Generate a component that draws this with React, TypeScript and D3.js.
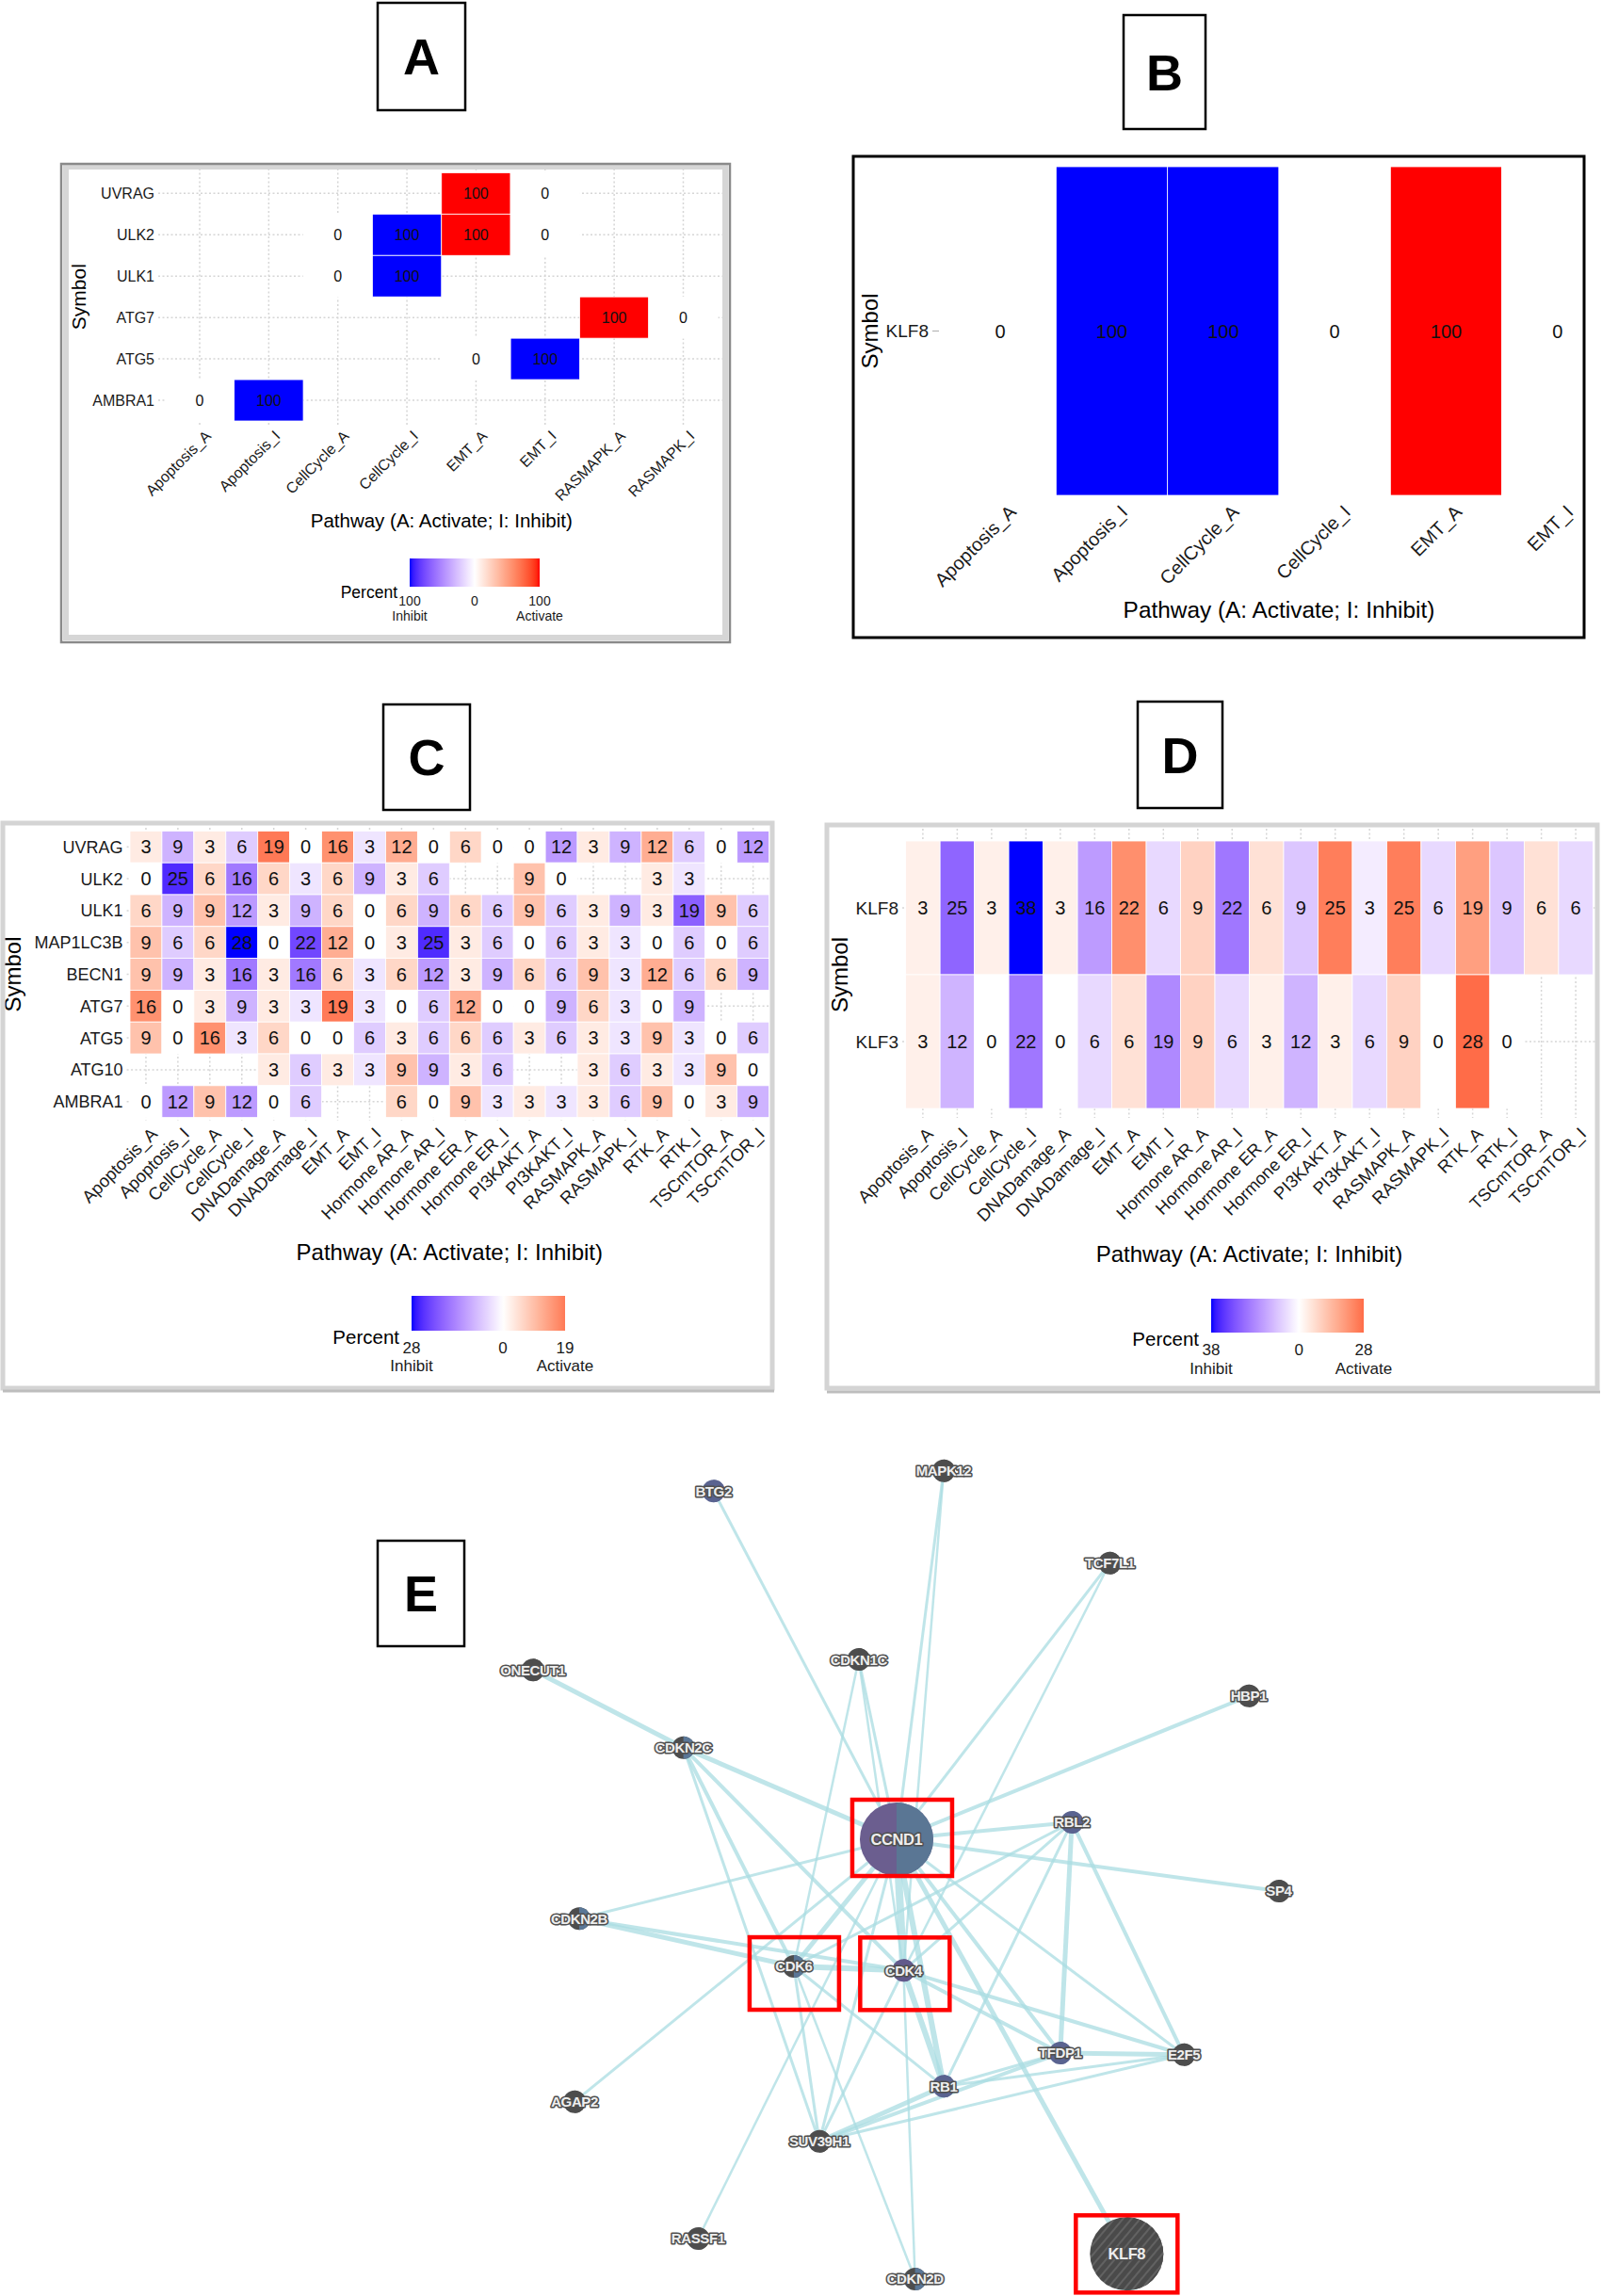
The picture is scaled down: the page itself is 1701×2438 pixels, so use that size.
import React, { useEffect, useRef } from 'react';
import * as d3 from 'd3';

const W = 1701;
const H = 2438;
const FONT = "'Liberation Sans', Arial, Helvetica, sans-serif";

// ---------- Panel A ----------
const pathwaysA = ['Apoptosis_A', 'Apoptosis_I', 'CellCycle_A', 'CellCycle_I', 'EMT_A', 'EMT_I', 'RASMAPK_A', 'RASMAPK_I'];
const symbolsA = ['UVRAG', 'ULK2', 'ULK1', 'ATG7', 'ATG5', 'AMBRA1'];
const valuesA: (number | null)[][] = [
  [null, null, null, null, 100, 0, null, null],
  [null, null, 0, 100, 100, 0, null, null],
  [null, null, 0, 100, null, null, null, null],
  [null, null, null, null, null, null, 100, 0],
  [null, null, null, null, 0, 100, null, null],
  [0, 100, null, null, null, null, null, null],
];

// ---------- Panel B ----------
const pathwaysB = ['Apoptosis_A', 'Apoptosis_I', 'CellCycle_A', 'CellCycle_I', 'EMT_A', 'EMT_I'];
const symbolsB = ['KLF8'];
// signed: negative values are drawn on the inhibit (blue) side
const valuesB: (number | null)[][] = [[0, -100, -100, 0, 100, 0]];

// ---------- Panels C and D ----------
const pathwaysCD = [
  'Apoptosis_A', 'Apoptosis_I', 'CellCycle_A', 'CellCycle_I', 'DNADamage_A', 'DNADamage_I',
  'EMT_A', 'EMT_I', 'Hormone AR_A', 'Hormone AR_I', 'Hormone ER_A', 'Hormone ER_I',
  'PI3KAKT_A', 'PI3KAKT_I', 'RASMAPK_A', 'RASMAPK_I', 'RTK_A', 'RTK_I', 'TSCmTOR_A', 'TSCmTOR_I',
];
const symbolsC = ['UVRAG', 'ULK2', 'ULK1', 'MAP1LC3B', 'BECN1', 'ATG7', 'ATG5', 'ATG10', 'AMBRA1'];
const _ = null;
const valuesC: (number | null)[][] = [
  [3, 9, 3, 6, 19, 0, 16, 3, 12, 0, 6, 0, 0, 12, 3, 9, 12, 6, 0, 12],
  [0, 25, 6, 16, 6, 3, 6, 9, 3, 6, _, _, 9, 0, _, _, 3, 3, _, _],
  [6, 9, 9, 12, 3, 9, 6, 0, 6, 9, 6, 6, 9, 6, 3, 9, 3, 19, 9, 6],
  [9, 6, 6, 28, 0, 22, 12, 0, 3, 25, 3, 6, 0, 6, 3, 3, 0, 6, 0, 6],
  [9, 9, 3, 16, 3, 16, 6, 3, 6, 12, 3, 9, 6, 6, 9, 3, 12, 6, 6, 9],
  [16, 0, 3, 9, 3, 3, 19, 3, 0, 6, 12, 0, 0, 9, 6, 3, 0, 9, _, _],
  [9, 0, 16, 3, 6, 0, 0, 6, 3, 6, 6, 6, 3, 6, 3, 3, 9, 3, 0, 6],
  [_, _, _, _, 3, 6, 3, 3, 9, 9, 3, 6, _, _, 3, 6, 3, 3, 9, 0],
  [0, 12, 9, 12, 0, 6, _, _, 6, 0, 9, 3, 3, 3, 3, 6, 9, 0, 3, 9],
];
const symbolsD = ['KLF8', 'KLF3'];
const valuesD: (number | null)[][] = [
  [3, 25, 3, 38, 3, 16, 22, 6, 9, 22, 6, 9, 25, 3, 25, 6, 19, 9, 6, 6],
  [3, 12, 0, 22, 0, 6, 6, 19, 9, 6, 3, 12, 3, 6, 9, 0, 28, 0, _, _],
];

// ---------- Panel E (network, layout units 0-100) ----------
// name, x, y, colouring
const networkNodes: [string, number, number, string][] = [
  ['BTG2', 24.1, 2.7, 'bp'],
  ['MAPK12', 53.9, 0.2, 'g'],
  ['TCF7L1', 75.4, 11.6, 'g'],
  ['CDKN1C', 42.9, 23.5, 'g'],
  ['ONECUT1', 0.7, 24.8, 'g'],
  ['HBP1', 93.4, 28.0, 'g'],
  ['CDKN2C', 20.2, 34.4, 'gb'],
  ['CCND1', 47.8, 45.7, 'pb'],
  ['RBL2', 70.5, 43.6, 'bp'],
  ['CDKN2B', 6.7, 55.5, 'gb'],
  ['SP4', 97.3, 52.1, 'g'],
  ['CDK6', 34.5, 61.4, 'gb'],
  ['CDK4', 48.7, 61.9, 'p'],
  ['TFDP1', 69.0, 72.1, 'bp'],
  ['E2F5', 85.0, 72.3, 'g'],
  ['RB1', 53.9, 76.2, 'bp'],
  ['AGAP2', 6.1, 78.1, 'g'],
  ['SUV39H1', 37.8, 83.0, 'g'],
  ['RASSF1', 22.1, 95.0, 'g'],
  ['CDKN2D', 50.2, 100, 'gb'],
  ['KLF8', 77.6, 96.9, 'hatch'],
];
const bigNodes = ['CCND1', 'KLF8'];
// source, target, width
const networkEdges: [string, string, number][] = [
  ['BTG2', 'CCND1', 3], ['MAPK12', 'CCND1', 3], ['MAPK12', 'CDK4', 2.5],
  ['TCF7L1', 'CCND1', 3], ['TCF7L1', 'CDK4', 2.5],
  ['CDKN1C', 'CCND1', 3], ['CDKN1C', 'CDK6', 2.5], ['CDKN1C', 'CDK4', 2.5],
  ['ONECUT1', 'CDKN2C', 5], ['HBP1', 'CCND1', 4],
  ['CDKN2C', 'CCND1', 5], ['CDKN2C', 'CDK6', 4], ['CDKN2C', 'CDK4', 4], ['CDKN2C', 'SUV39H1', 3],
  ['CDKN2B', 'CDK6', 5], ['CDKN2B', 'CDK4', 4], ['CDKN2B', 'CCND1', 3],
  ['SP4', 'CCND1', 4],
  ['RBL2', 'CCND1', 4], ['RBL2', 'CDK4', 3], ['RBL2', 'CDK6', 3], ['RBL2', 'TFDP1', 5],
  ['RBL2', 'E2F5', 4], ['RBL2', 'RB1', 3],
  ['CCND1', 'CDK4', 8], ['CCND1', 'CDK6', 5], ['CCND1', 'RB1', 6], ['CCND1', 'TFDP1', 4],
  ['CCND1', 'E2F5', 3], ['CCND1', 'KLF8', 5], ['CCND1', 'AGAP2', 3], ['CCND1', 'RASSF1', 2.5],
  ['CCND1', 'SUV39H1', 3],
  ['CDK6', 'CDK4', 6], ['CDK6', 'RB1', 3], ['CDK6', 'SUV39H1', 3], ['CDK6', 'CDKN2D', 2.5],
  ['CDK4', 'RB1', 6], ['CDK4', 'TFDP1', 4], ['CDK4', 'E2F5', 4], ['CDK4', 'SUV39H1', 3], ['CDK4', 'CDKN2D', 2.5],
  ['RB1', 'TFDP1', 3], ['RB1', 'E2F5', 3], ['RB1', 'SUV39H1', 5],
  ['TFDP1', 'E2F5', 5], ['TFDP1', 'SUV39H1', 4], ['SUV39H1', 'E2F5', 3],
];
// node, box width, box height, dx, dy
const highlightBoxes: [string, number, number, number, number][] = [
  ['CCND1', 106, 81, 6, -1.5],
  ['CDK6', 95, 77, 0.5, 7.5],
  ['CDK4', 95, 77, 1.5, 3.5],
  ['KLF8', 108, 82, 0, 0],
];

// panel letters: letter, x, y, w, h
const panelLetters: [string, number, number, number, number][] = [
  ['A', 401, 3, 93, 114],
  ['B', 1193, 16, 87, 121],
  ['C', 407, 748, 92, 112],
  ['D', 1208, 745, 90, 113],
  ['E', 401, 1636, 92, 112],
];

const colour = (s: number, m: number) =>
  s >= 0
    ? d3.interpolateLab('#ffffff', '#ff0000')(Math.min(1, s / m))
    : d3.interpolateLab('#ffffff', '#0000ff')(Math.min(1, -s / m));

interface LegendSpec {
  x: [number, number];
  y: [number, number];
  percentFont: number;
  labelFont: number;
  percentDy: number;
  numDy: number;
  wordDy: number;
}

interface HeatmapSpec {
  id: string;
  cols: string[];
  rows: string[];
  values: (number | null)[][];
  preSigned?: boolean;
  xRange: [number, number];
  yRange: [number, number];
  padX: number;
  padY: number;
  grid: boolean;
  gridY?: [number, number];
  rowFont: number;
  cellFont: number;
  tickFont: number;
  rowGap: number;
  rowTick: boolean;
  tickDx: number;
  tickY: number;
  symX: number;
  symFont: number;
  titleY: number;
  titleFont: number;
  legend?: LegendSpec;
}

interface Cell { r: string; c: string; s: number; v: number; }

function drawHeatmap(root: any, defs: any, spec: HeatmapSpec) {
  const g = root.append('g').attr('font-family', FONT);
  const x = d3.scaleBand<string>().domain(spec.cols).range(spec.xRange).paddingInner(0).paddingOuter(spec.padX);
  const y = d3.scaleBand<string>().domain(spec.rows).range(spec.yRange).paddingInner(0).paddingOuter(spec.padY);
  const cx = (c: string) => (x(c) ?? 0) + x.bandwidth() / 2;
  const cy = (r: string) => (y(r) ?? 0) + y.bandwidth() / 2;

  const cells: Cell[] = [];
  spec.rows.forEach((r, i) =>
    spec.cols.forEach((c, j) => {
      const v = spec.values[i][j];
      if (v === null || v === undefined) return;
      const s = spec.preSigned ? v : c.endsWith('_I') ? -v : v;
      cells.push({ r, c, s, v: Math.abs(v) });
    })
  );
  const maxI = d3.max(cells, d => (d.s < 0 ? -d.s : 0)) ?? 0;
  const maxA = d3.max(cells, d => (d.s > 0 ? d.s : 0)) ?? 0;
  const m = Math.max(maxI, maxA, 1);

  if (spec.grid) {
    const gy = spec.gridY ?? spec.yRange;
    const grid = g.append('g').attr('stroke', '#d6d6d6').attr('stroke-width', 1.5).attr('stroke-dasharray', '2,2.5');
    grid.selectAll('line.v').data(spec.cols).join('line').attr('class', 'v')
      .attr('x1', cx).attr('x2', cx).attr('y1', gy[0]).attr('y2', gy[1]);
    grid.selectAll('line.h').data(spec.rows).join('line').attr('class', 'h')
      .attr('x1', spec.xRange[0]).attr('x2', spec.xRange[1]).attr('y1', cy).attr('y2', cy);
  }

  g.append('g').selectAll('rect').data(cells).join('rect')
    .attr('x', (d: Cell) => x(d.c) ?? 0)
    .attr('y', (d: Cell) => y(d.r) ?? 0)
    .attr('width', x.bandwidth())
    .attr('height', y.bandwidth())
    .attr('fill', (d: Cell) => colour(d.s, m))
    .attr('stroke', '#ffffff')
    .attr('stroke-width', 0.8);

  g.append('g').selectAll('text').data(cells).join('text')
    .attr('x', (d: Cell) => cx(d.c))
    .attr('y', (d: Cell) => cy(d.r))
    .attr('dy', '0.36em')
    .attr('text-anchor', 'middle')
    .attr('font-size', spec.cellFont)
    .attr('fill', '#111')
    .text((d: Cell) => d.v);

  // row labels
  const labelX = spec.xRange[0] - spec.rowGap;
  g.append('g').selectAll('text').data(spec.rows).join('text')
    .attr('x', labelX)
    .attr('y', cy)
    .attr('dy', '0.36em')
    .attr('text-anchor', 'end')
    .attr('font-size', spec.rowFont)
    .attr('fill', '#1a1a1a')
    .text((d: string) => d);
  if (spec.rowTick) {
    g.append('g').selectAll('line').data(spec.rows).join('line')
      .attr('x1', labelX + 4).attr('x2', labelX + 11)
      .attr('y1', cy).attr('y2', cy)
      .attr('stroke', '#b5b5b5').attr('stroke-width', 1.2);
  }

  // column labels
  g.append('g').selectAll('text').data(spec.cols).join('text')
    .attr('transform', (d: string) => `translate(${cx(d) + spec.tickDx},${spec.tickY}) rotate(-45)`)
    .attr('dy', '0.7em')
    .attr('text-anchor', 'end')
    .attr('font-size', spec.tickFont)
    .attr('fill', '#1a1a1a')
    .text((d: string) => d);

  // axis titles
  g.append('text')
    .attr('transform', `translate(${spec.symX},${(spec.yRange[0] + spec.yRange[1]) / 2}) rotate(-90)`)
    .attr('dy', '0.36em')
    .attr('text-anchor', 'middle')
    .attr('font-size', spec.symFont)
    .attr('fill', '#000')
    .text('Symbol');
  g.append('text')
    .attr('x', (spec.xRange[0] + spec.xRange[1]) / 2)
    .attr('y', spec.titleY)
    .attr('text-anchor', 'middle')
    .attr('font-size', spec.titleFont)
    .attr('fill', '#000')
    .text('Pathway (A: Activate; I: Inhibit)');

  if (spec.legend) {
    const L = spec.legend;
    const lx = d3.scaleLinear().domain([-maxI, maxA]).range(L.x);
    const gid = `grad-${spec.id}`;
    const grad = defs.append('linearGradient').attr('id', gid).attr('x1', '0%').attr('x2', '100%');
    d3.range(0, 41).forEach(i => {
      const t = i / 40;
      const v = -maxI + t * (maxI + maxA);
      grad.append('stop').attr('offset', `${t * 100}%`).attr('stop-color', colour(v, m));
    });
    g.append('rect')
      .attr('x', L.x[0]).attr('y', L.y[0])
      .attr('width', L.x[1] - L.x[0]).attr('height', L.y[1] - L.y[0])
      .attr('fill', `url(#${gid})`);
    g.append('text')
      .attr('x', L.x[0] - 13).attr('y', L.y[1] + L.percentDy)
      .attr('text-anchor', 'end').attr('font-size', L.percentFont).attr('fill', '#000')
      .text('Percent');
    const ticks: [number, string, string][] = [[-maxI, String(maxI), 'Inhibit'], [0, '0', ''], [maxA, String(maxA), 'Activate']];
    const tg = g.append('g').attr('font-size', L.labelFont).attr('fill', '#1a1a1a').attr('text-anchor', 'middle');
    tg.selectAll('text.n').data(ticks).join('text').attr('class', 'n')
      .attr('x', (d: [number, string, string]) => lx(d[0])).attr('y', L.y[1] + L.numDy)
      .text((d: [number, string, string]) => d[1]);
    tg.selectAll('text.w').data(ticks).join('text').attr('class', 'w')
      .attr('x', (d: [number, string, string]) => lx(d[0])).attr('y', L.y[1] + L.wordDy)
      .text((d: [number, string, string]) => d[2]);
  }
}

function drawNetwork(root: any, defs: any) {
  const xE = d3.scaleLinear().domain([0, 100]).range([560, 1380]);
  const yE = d3.scaleLinear().domain([0, 100]).range([1560, 2420]);
  const pos = new Map(networkNodes.map(n => [n[0], [xE(n[1]), yE(n[2])]]));
  const g = root.append('g').attr('font-family', FONT);

  const pat = defs.append('pattern').attr('id', 'hatch').attr('patternUnits', 'userSpaceOnUse')
    .attr('width', 7).attr('height', 7).attr('patternTransform', 'rotate(40)');
  pat.append('rect').attr('width', 7).attr('height', 7).attr('fill', '#4a4a4a');
  pat.append('line').attr('x1', 1).attr('x2', 1).attr('y1', 0).attr('y2', 7).attr('stroke', '#6c6c6c').attr('stroke-width', 1.4);

  g.append('g').selectAll('line').data(networkEdges).join('line')
    .attr('x1', (d: any) => pos.get(d[0])![0]).attr('y1', (d: any) => pos.get(d[0])![1])
    .attr('x2', (d: any) => pos.get(d[1])![0]).attr('y2', (d: any) => pos.get(d[1])![1])
    .attr('stroke', '#a9dce2').attr('stroke-opacity', 0.75)
    .attr('stroke-width', (d: any) => d[2]);

  const leftCol: Record<string, string> = { g: '#4d4d4d', gb: '#4d4d4d', p: '#625a8c', pb: '#6b5e8f', bp: '#5a6390', hatch: 'url(#hatch)' };
  const rightCol: Record<string, string> = { g: '#4d4d4d', gb: '#5a7797', p: '#625a8c', pb: '#5a7694', bp: '#5a6390', hatch: 'url(#hatch)' };

  const nodes = g.append('g').selectAll('g').data(networkNodes).join('g')
    .attr('transform', (d: any) => `translate(${xE(d[1])},${yE(d[2])})`);
  const rad = (d: any) => (bigNodes.includes(d[0]) ? 39 : 12);
  nodes.append('circle').attr('r', rad).attr('fill', (d: any) => leftCol[d[3]]);
  nodes.append('path')
    .attr('d', (d: any) => d3.arc()({ innerRadius: 0, outerRadius: rad(d), startAngle: 0, endAngle: Math.PI } as any))
    .attr('fill', (d: any) => rightCol[d[3]]);
  nodes.append('text')
    .attr('dy', '0.36em')
    .attr('text-anchor', 'middle')
    .attr('font-size', (d: any) => (bigNodes.includes(d[0]) ? 16.5 : 15))
    .attr('font-weight', 'bold')
    .attr('letter-spacing', -0.4)
    .attr('fill', '#eeeeee')
    .attr('stroke', '#505050')
    .attr('stroke-width', 3.2)
    .attr('stroke-linejoin', 'round')
    .attr('paint-order', 'stroke')
    .text((d: any) => d[0]);

  g.append('g').selectAll('rect').data(highlightBoxes).join('rect')
    .attr('x', (d: any) => pos.get(d[0])![0] + d[3] - d[1] / 2)
    .attr('y', (d: any) => pos.get(d[0])![1] + d[4] - d[2] / 2)
    .attr('width', (d: any) => d[1])
    .attr('height', (d: any) => d[2])
    .attr('fill', 'none')
    .attr('stroke', '#ff0000')
    .attr('stroke-width', 4.5);
}

const App: React.FC = () => {
  const ref = useRef<SVGSVGElement | null>(null);

  useEffect(() => {
    if (!ref.current) return;
    const svg = d3.select(ref.current);
    svg.selectAll('*').remove();
    const defs = svg.append('defs');
    svg.append('rect').attr('width', W).attr('height', H).attr('fill', '#ffffff');

    drawHeatmap(svg, defs, {
      id: 'A', cols: pathwaysA, rows: symbolsA, values: valuesA,
      xRange: [168, 769.5], yRange: [179, 451.4], padX: 0.1, padY: 0.1, grid: true,
      rowFont: 16, cellFont: 16, tickFont: 16, rowGap: 4, rowTick: false,
      tickDx: 5, tickY: 456, symX: 83, symFont: 21, titleY: 560, titleFont: 20.5,
      legend: { x: [435, 573], y: [593, 623], percentFont: 17.5, labelFont: 14, percentDy: 12, numDy: 20, wordDy: 36 },
    });
    drawHeatmap(svg, defs, {
      id: 'B', cols: pathwaysB, rows: symbolsB, values: valuesB, preSigned: true,
      xRange: [1003, 1713], yRange: [177, 526], padX: 0, padY: 0, grid: false,
      rowFont: 19, cellFont: 20, tickFont: 20, rowGap: 17, rowTick: true,
      tickDx: 8, tickY: 535, symX: 923, symFont: 24, titleY: 656, titleFont: 24.4,
    });
    drawHeatmap(svg, defs, {
      id: 'C', cols: pathwaysCD, rows: symbolsC, values: valuesC,
      xRange: [134.6, 820], yRange: [879, 1190], padX: 0.1, padY: 0.1, grid: true,
      rowFont: 18, cellFont: 20, tickFont: 18.5, rowGap: 4, rowTick: false,
      tickDx: 4, tickY: 1196, symX: 13, symFont: 24, titleY: 1338, titleFont: 24,
      legend: { x: [437, 600], y: [1376, 1413], percentFont: 20.5, labelFont: 17, percentDy: 14, numDy: 24, wordDy: 43 },
    });
    drawHeatmap(svg, defs, {
      id: 'D', cols: pathwaysCD, rows: symbolsD, values: valuesD,
      xRange: [958, 1695], yRange: [893, 1177], padX: 0.1, padY: 0, grid: true, gridY: [880, 1187],
      rowFont: 19, cellFont: 20, tickFont: 18.5, rowGap: 4, rowTick: false,
      tickDx: 3, tickY: 1196, symX: 891, symFont: 24, titleY: 1340, titleFont: 24,
      legend: { x: [1286, 1448], y: [1379, 1415], percentFont: 20.5, labelFont: 17, percentDy: 14, numDy: 24, wordDy: 44 },
    });

    drawNetwork(svg, defs);

    // frames, drawn over the plots so white tiles cannot hide them
    const frames = svg.append('g').attr('fill', 'none');
    frames.append('rect').attr('x', 70).attr('y', 177).attr('width', 700).attr('height', 500)
      .attr('stroke', '#d6d6d6').attr('stroke-width', 6);
    frames.append('rect').attr('x', 65).attr('y', 174).attr('width', 710).attr('height', 508)
      .attr('stroke', '#8a8a8a').attr('stroke-width', 2.5);
    frames.append('rect').attr('x', 906).attr('y', 166).attr('width', 776).attr('height', 511)
      .attr('stroke', '#000').attr('stroke-width', 3);
    frames.append('rect').attr('x', 3).attr('y', 874).attr('width', 817).attr('height', 600)
      .attr('stroke', '#d4d4d4').attr('stroke-width', 5);
    frames.append('line').attr('x1', 3).attr('x2', 822).attr('y1', 1477).attr('y2', 1477)
      .attr('stroke', '#bdbdbd').attr('stroke-width', 3);
    frames.append('rect').attr('x', 878).attr('y', 876).attr('width', 818).attr('height', 598)
      .attr('stroke', '#d4d4d4').attr('stroke-width', 5);
    frames.append('line').attr('x1', 878).attr('x2', 1699).attr('y1', 1478).attr('y2', 1478)
      .attr('stroke', '#bdbdbd').attr('stroke-width', 3);

    const letters = svg.append('g').selectAll('g').data(panelLetters).join('g');
    letters.append('rect')
      .attr('x', (d: any) => d[1]).attr('y', (d: any) => d[2])
      .attr('width', (d: any) => d[3]).attr('height', (d: any) => d[4])
      .attr('fill', '#fff').attr('stroke', '#000').attr('stroke-width', 2.5);
    letters.append('text')
      .attr('x', (d: any) => d[1] + d[3] / 2).attr('y', (d: any) => d[2] + d[4] / 2)
      .attr('dy', '0.36em').attr('text-anchor', 'middle')
      .attr('font-family', FONT).attr('font-weight', 'bold').attr('font-size', 54)
      .text((d: any) => d[0]);
  }, []);

  return (
    <svg
      ref={ref}
      width={W}
      height={H}
      style={{ position: 'absolute', left: 0, top: 0, display: 'block' }}
    />
  );
};

export default App;
